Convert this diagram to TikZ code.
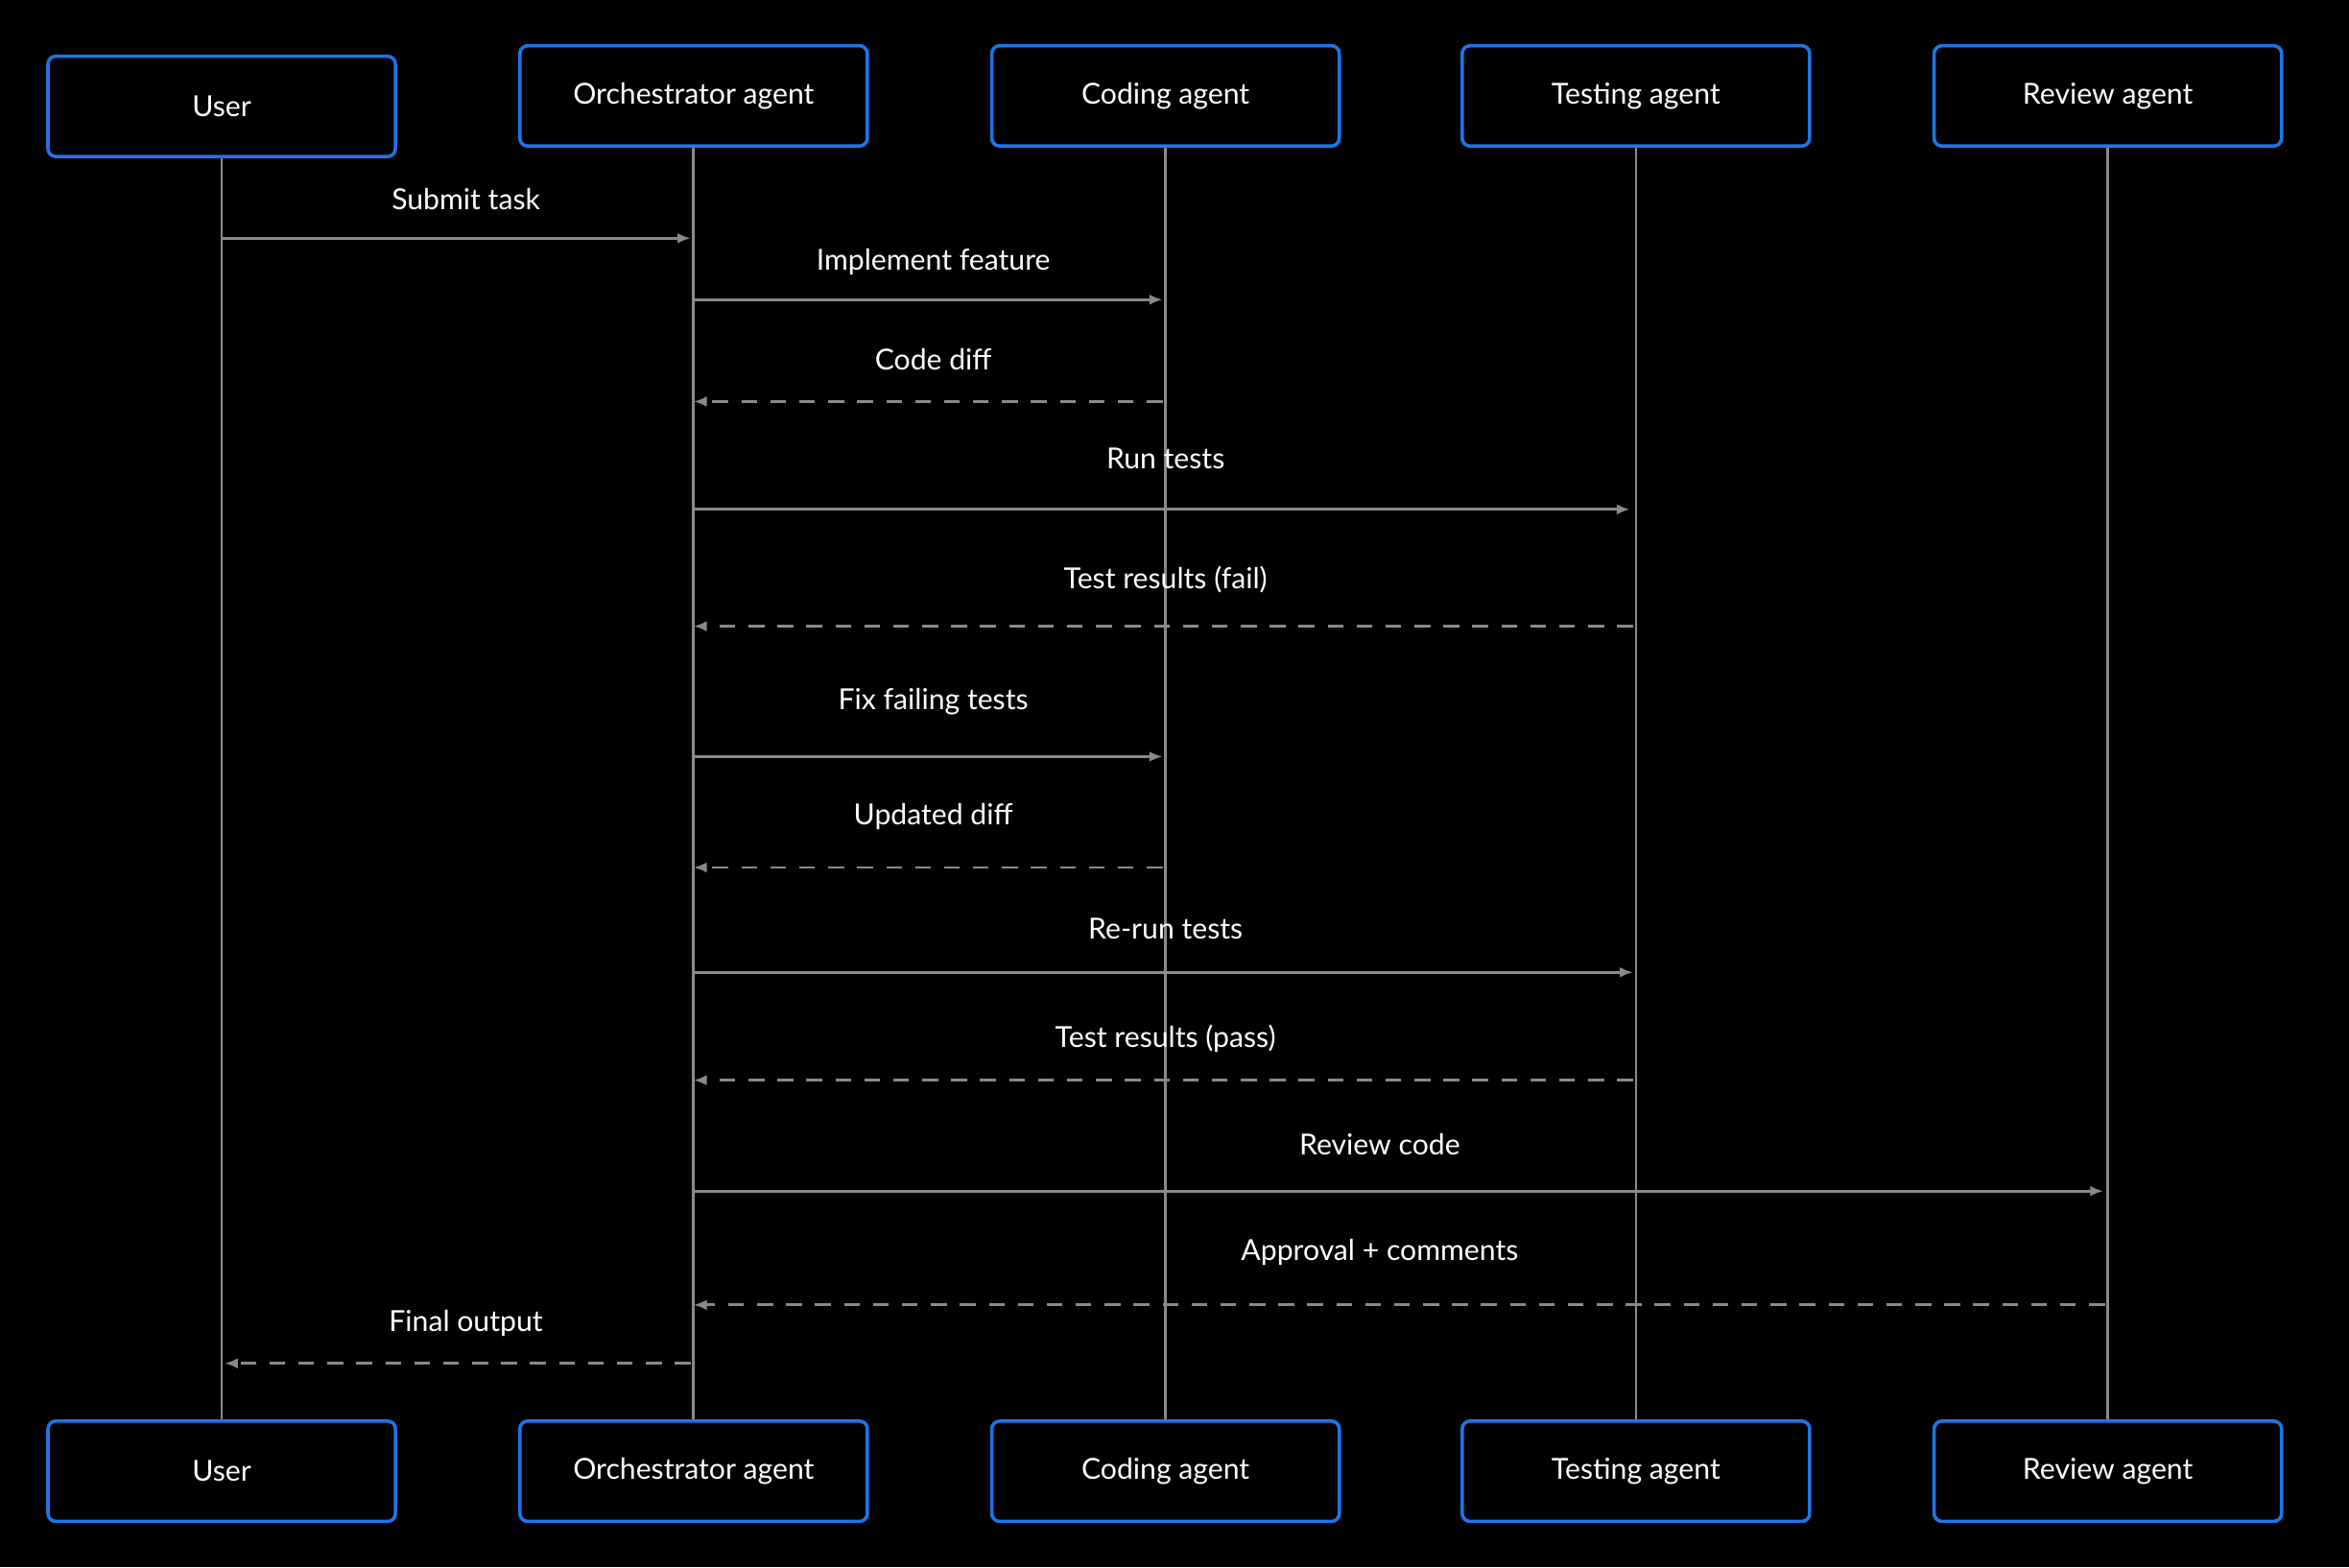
\documentclass[tikz,border=0pt]{standalone}
\usepackage{fontspec}
\setmainfont{Lato}
\usetikzlibrary{arrows.meta}
\usetikzlibrary{positioning}
\definecolor{bg}{HTML}{000000}
\definecolor{boxblue}{HTML}{1F74E8}
\definecolor{wire}{HTML}{8A8A8A}
\tikzset{auto, >={Latex[length=5pt,width=4pt]}, font=\fontsize{11}{11}\selectfont}
\tikzstyle{actor} = [draw=boxblue, line width=1.3pt, fill=black, rounded corners=3pt, minimum width=4.64cm, minimum height=1.34cm, text=white, text centered]
\tikzstyle{life} = [draw=wire, line width=1pt]
\tikzstyle{call} = [draw=wire, line width=1pt, ->]
\tikzstyle{reply} = [draw=wire, line width=1pt, ->, dash pattern=on 6pt off 5pt]
\tikzstyle{msg} = [text=white, inner sep=0pt]

\begin{document}
\begin{tikzpicture}[x=0.02cm, y=-0.02cm]
		\fill [bg] (0,0) rectangle (1568,1046);
		\useasboundingbox (0,0) rectangle (1568,1046);

		% lifelines
		\coordinate (u_top) at (148,105);  \coordinate (u_bot) at (148,949);
		\coordinate (o_top) at (463,98);   \coordinate (o_bot) at (463,949);
		\coordinate (c_top) at (778,98);   \coordinate (c_bot) at (778,949);
		\coordinate (t_top) at (1092,98);  \coordinate (t_bot) at (1092,949);
		\coordinate (r_top) at (1407,98);  \coordinate (r_bot) at (1407,949);
		\foreach \l in {u,o,c,t,r}
			\draw [life] (\l_top) -- (\l_bot);

		\node [actor] (user) at (148,71) {User};
		\node [actor] (orch) at (463,64) {Orchestrator agent};
		\node [actor] (coder) at (778,64) {Coding agent};
		\node [actor] (tester) at (1092,64) {Testing agent};
		\node [actor] (reviewer) at (1407,64) {Review agent};

		\node [actor] (user_b) at (148,982) {User};
		\node [actor] (orch_b) at (463,982) {Orchestrator agent};
		\node [actor] (coder_b) at (778,982) {Coding agent};
		\node [actor] (tester_b) at (1092,982) {Testing agent};
		\node [actor] (reviewer_b) at (1407,982) {Review agent};

		% messages
		\coordinate (m1a) at (148,159);  \coordinate (m1b) at (461,159);
		\coordinate (m2a) at (463,200);  \coordinate (m2b) at (776,200);
		\coordinate (m3a) at (776,268);  \coordinate (m3b) at (463,268);
		\coordinate (m4a) at (463,340);  \coordinate (m4b) at (1088,340);
		\coordinate (m5a) at (1090,418); \coordinate (m5b) at (463,418);
		\coordinate (m6a) at (463,505);  \coordinate (m6b) at (776,505);
		\coordinate (m7a) at (776,579);  \coordinate (m7b) at (463,579);
		\coordinate (m8a) at (463,649);  \coordinate (m8b) at (1090,649);
		\coordinate (m9a) at (1090,721); \coordinate (m9b) at (463,721);
		\coordinate (m10a) at (463,795); \coordinate (m10b) at (1404,795);
		\coordinate (m11a) at (1405,871);\coordinate (m11b) at (463,871);
		\coordinate (m12a) at (461,910); \coordinate (m12b) at (150,910);

		\draw [call] (m1a) -- (m1b);
		\draw [call] (m2a) -- (m2b);
		\draw [reply] (m3a) -- (m3b);
		\draw [call] (m4a) -- (m4b);
		\draw [reply] (m5a) -- (m5b);
		\draw [call] (m6a) -- (m6b);
		\draw [reply] (m7a) -- (m7b);
		\draw [call] (m8a) -- (m8b);
		\draw [reply] (m9a) -- (m9b);
		\draw [call] (m10a) -- (m10b);
		\draw [reply] (m11a) -- (m11b);
		\draw [reply] (m12a) -- (m12b);

		\node [msg] (l1) at (311,133) {Submit task};
		\node [msg] (l2) at (623,175) {Implement feature};
		\node [msg] (l3) at (623,240) {Code diff};
		\node [msg] (l4) at (778,306) {Run tests};
		\node [msg] (l5) at (778,387) {Test results (fail)};
		\node [msg] (l6) at (623,468) {Fix failing tests};
		\node [msg] (l7) at (623,545) {Updated diff};
		\node [msg] (l8) at (778,620) {Re-run tests};
		\node [msg] (l9) at (778,693) {Test results (pass)};
		\node [msg] (l10) at (921,764) {Review code};
		\node [msg] (l11) at (921,836) {Approval + comments};
		\node [msg] (l12) at (311,883) {Final output};
	\end{tikzpicture}
\end{document}
